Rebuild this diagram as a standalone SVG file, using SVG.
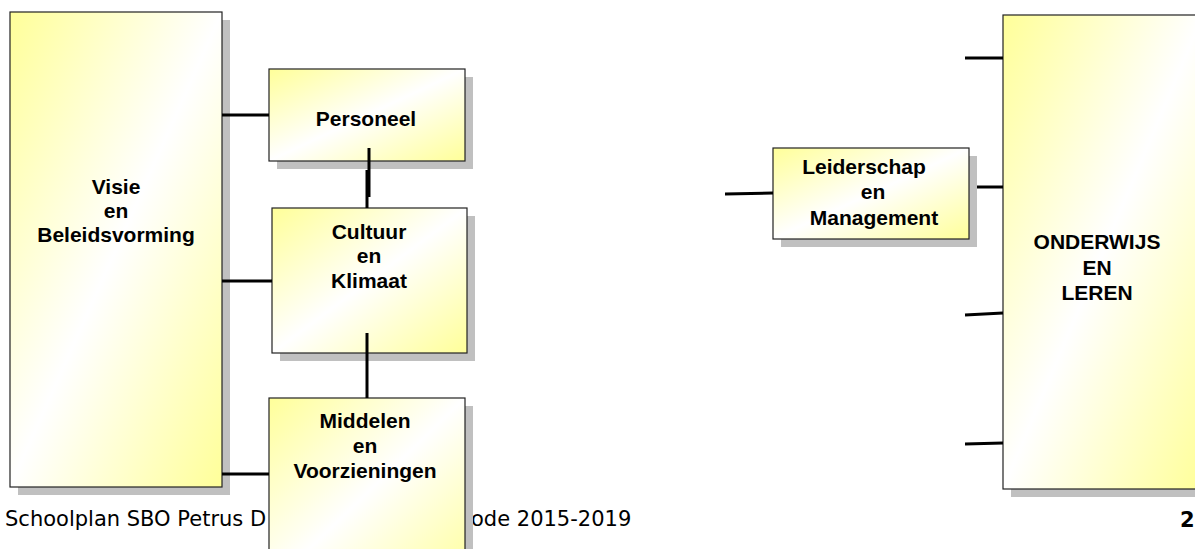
<svg xmlns="http://www.w3.org/2000/svg" width="1195" height="549" viewBox="0 0 1195 549">
<defs>
<linearGradient id="g" x1="0" y1="0" x2="1" y2="1">
<stop offset="0" stop-color="#FFFF99"/>
<stop offset="0.5" stop-color="#FFFFFF"/>
<stop offset="1" stop-color="#FFFF99"/>
</linearGradient>
<style>
.sh{fill:#C0C0C0;}
.bx{fill:url(#g);stroke:#222;stroke-width:1.2;}
.t{font-family:"Liberation Sans",Arial,sans-serif;font-weight:bold;font-size:21px;fill:#000;text-anchor:middle;}
.f{font-family:"DejaVu Sans",Verdana,sans-serif;font-size:21px;fill:#000;}
.c{stroke:#000;stroke-width:3;fill:none;}
</style>
</defs>
<rect width="1195" height="549" fill="#fff"/>
<g id="footer">
<text class="f" x="5" y="526">Schoolplan SBO Petrus D</text>
<text class="f" x="471" y="526">ode 2015-2019</text>
<text class="f" x="1180" y="527" font-weight="bold">2</text>
</g>
<g id="visie">
<rect class="sh" x="18" y="20" width="212" height="475"/>
<rect class="bx" x="10" y="12" width="212" height="475"/>
<text class="t" x="116" y="194">Visie</text>
<text class="t" x="116" y="218">en</text>
<text class="t" x="116" y="242">Beleidsvorming</text>
</g>
<g id="personeel">
<rect class="sh" x="277" y="77" width="196" height="92"/>
<rect class="bx" x="269" y="69" width="196" height="92"/>
<text class="t" x="366" y="126">Personeel</text>
</g>
<g id="cultuur">
<rect class="sh" x="280" y="216" width="195" height="145"/>
<rect class="bx" x="272" y="208" width="195" height="145"/>
<text class="t" x="369" y="239">Cultuur</text>
<text class="t" x="369" y="263">en</text>
<text class="t" x="369" y="288">Klimaat</text>
</g>
<g id="middelen">
<rect class="sh" x="277" y="406" width="196" height="190"/>
<rect class="bx" x="269" y="398" width="196" height="190"/>
<text class="t" x="365" y="428">Middelen</text>
<text class="t" x="365" y="453">en</text>
<text class="t" x="365" y="478">Voorzieningen</text>
</g>
<g id="leiderschap">
<rect class="sh" x="781" y="156" width="196" height="91"/>
<rect class="bx" x="773" y="148" width="196" height="91"/>
<text class="t" x="864" y="174">Leiderschap</text>
<text class="t" x="873" y="199">en</text>
<text class="t" x="874" y="225">Management</text>
</g>
<g id="onderwijs">
<rect class="sh" x="1011" y="23" width="200" height="474"/>
<rect class="bx" x="1003" y="15" width="200" height="474"/>
<text class="t" x="1097" y="249">ONDERWIJS</text>
<text class="t" x="1097" y="275">EN</text>
<text class="t" x="1097" y="300">LEREN</text>
</g>
<g id="connectors">
<line class="c" x1="222" y1="115" x2="269" y2="115"/>
<line class="c" x1="222" y1="281" x2="272" y2="281"/>
<line class="c" x1="222" y1="474" x2="269" y2="474"/>
<line class="c" x1="369" y1="148" x2="369" y2="197"/>
<line class="c" x1="367" y1="170" x2="367" y2="208"/>
<line class="c" x1="367" y1="333" x2="367" y2="398"/>
<line class="c" x1="725" y1="194" x2="773" y2="193"/>
<line class="c" x1="965" y1="58" x2="1003" y2="58"/>
<line class="c" x1="977" y1="187" x2="1003" y2="187"/>
<line class="c" x1="965" y1="315" x2="1003" y2="313"/>
<line class="c" x1="965" y1="444" x2="1003" y2="443"/>
</g>
</svg>
